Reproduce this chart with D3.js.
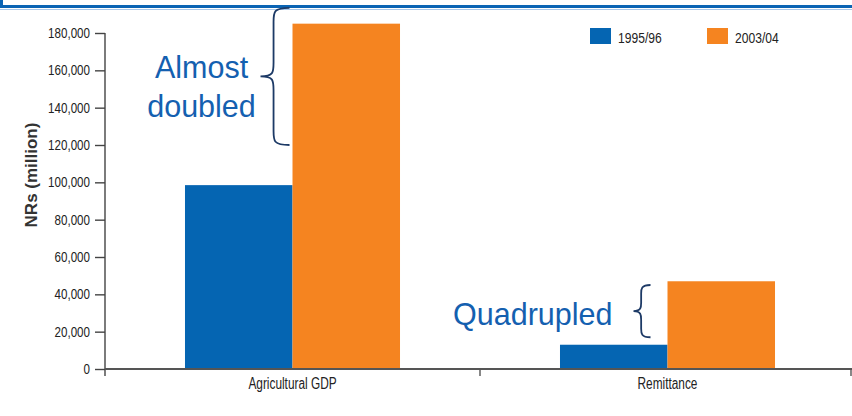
<!DOCTYPE html>
<html><head><meta charset="utf-8">
<script src="https://cdn.jsdelivr.net/npm/d3@7"></script>
<style>
html,body{margin:0;padding:0;background:#fff;}
svg{display:block;}
</style></head>
<body>
<svg id="chart" width="852" height="416"></svg>
<script>
const categories = ["Agricultural GDP", "Remittance"];
const seriesNames = ["1995/96", "2003/04"];
const values1995 = [98500, 13000];
const values2003 = [185000, 47000];
const yTicks = [0, 20000, 40000, 60000, 80000, 100000, 120000, 140000, 160000, 180000];
const colors = ["#0565b2", "#f58420"];
const annotations = [
  {cat: "Agricultural GDP", lines: ["Almost", "doubled"], top: 193500, bottom: 120000},
  {cat: "Remittance", lines: ["Quadrupled"], top: 45000, bottom: 17000}
];

const svg = d3.select("#chart");
const W = 852, H = 416;
const m = {left: 105, top: 33, bottom: 369, right: 855};
const font = "'Liberation Sans',Arial,sans-serif";

function squeeze(sel, f) {
  sel.each(function() {
    const len = this.getComputedTextLength();
    d3.select(this).attr("textLength", len * f).attr("lengthAdjust", "spacingAndGlyphs");
  });
}

// frame at top
svg.append("path").attr("d", "M1.5,0 V6.5 H852").attr("fill","none").attr("stroke","#0a64b4").attr("stroke-width",3);
svg.append("line").attr("x1",0).attr("x2",852).attr("y1",9.5).attr("y2",9.5).attr("stroke","#a9c8ea").attr("stroke-width",1);

const y = d3.scaleLinear().domain([0, 180000]).range([m.bottom, m.top]);
const x0 = d3.scaleBand().domain(categories).range([m.left, m.right]).padding(0);
const x1 = d3.scaleBand().domain(seriesNames).range([0, x0.bandwidth()]).paddingInner(0).paddingOuter(0.744);

// bars
const rows = categories.map((c, i) => ({cat: c, vals: [values1995[i], values2003[i]]}));
const g = svg.append("g");
rows.forEach(r => {
  r.vals.forEach((v, j) => {
    g.append("rect")
      .attr("x", x0(r.cat) + x1(seriesNames[j]))
      .attr("width", x1.bandwidth())
      .attr("y", y(v))
      .attr("height", y(0) - y(v))
      .attr("fill", colors[j]);
  });
});

// y axis
const yAxis = d3.axisLeft(y).tickValues(yTicks).tickSize(10).tickPadding(5)
  .tickFormat(d3.format(","));
const ya = svg.append("g").attr("transform", `translate(${m.left},0)`).call(yAxis);
ya.select(".domain").attr("d", `M0,${m.top}V${m.bottom + 7}`).attr("stroke", "#444").attr("stroke-width", 1.4);
ya.selectAll(".tick line").attr("stroke", "#444").attr("stroke-width", 1.4);
ya.selectAll(".tick text").attr("font-family", font).attr("font-size", 14.5).attr("fill", "#222");
squeeze(ya.selectAll(".tick text"), 0.8);

// x axis
const xa = svg.append("g").attr("transform", `translate(0,${m.bottom})`)
  .call(d3.axisBottom(x0).tickSize(0).tickPadding(9));
xa.select(".domain").attr("d", `M${m.left},0H${W}`).attr("stroke", "#555").attr("stroke-width", 2);
xa.selectAll(".tick text").attr("font-family", font).attr("font-size", 16).attr("fill", "#222");
squeeze(xa.selectAll(".tick text"), 0.74);
// boundary ticks
categories.slice(1).concat(["__end"]).forEach(c => {
  const xp = c === "__end" ? m.right - 4 : x0(c);
  xa.append("line").attr("x1", xp).attr("x2", xp).attr("y1", 0).attr("y2", 7).attr("stroke", "#555").attr("stroke-width", 1.4);
});

// y label
svg.append("text")
  .attr("transform", `translate(37,175) rotate(-90)`)
  .attr("text-anchor", "middle")
  .attr("font-family", font).attr("font-weight", "bold").attr("font-size", 17).attr("fill", "#333")
  .text("NRs (million)");

// legend
const legX = [590, 707];
seriesNames.forEach((s, j) => {
  svg.append("rect").attr("x", legX[j]).attr("y", 28).attr("width", 21).attr("height", 16).attr("fill", colors[j]);
  const t = svg.append("text").attr("x", legX[j] + 28).attr("y", 42.5).attr("font-family", font).attr("font-size", 15.5).attr("fill", "#222").text(s);
  squeeze(t, 0.78);
});

// annotations with braces
const braceCol = "#1d3a66", textCol = "#1460b0";
function brace(xr, yt, yb, w) {
  const ym = (yt + yb) / 2, xv = xr - w * 0.55, xt = xr - w;
  const r = Math.min(w * 0.5, 14);
  return `M${xr},${yt} C${xv},${yt} ${xv},${yt + 4} ${xv},${yt + r}`
    + ` V${ym - r} C${xv},${ym - 4} ${xv},${ym} ${xt},${ym}`
    + ` C${xv},${ym} ${xv},${ym + 4} ${xv},${ym + r}`
    + ` V${yb - r} C${xv},${yb - 4} ${xv},${yb} ${xr},${yb}`;
}
const braceOffset = [-3, -17], braceW = [29, 17];
annotations.forEach((a, i) => {
  const xr = x0(a.cat) + x1(seriesNames[1]) + braceOffset[i];
  const yt = y(a.top), yb = y(a.bottom);
  const w = braceW[i];
  svg.append("path").attr("d", brace(xr, yt, yb, w)).attr("fill", "none").attr("stroke", braceCol).attr("stroke-width", 1.8);
  const ym = (yt + yb) / 2;
  const t = svg.append("text").attr("text-anchor", i === 0 ? "middle" : "end")
    .attr("font-family", font).attr("font-size", 30.5).attr("fill", textCol);
  if (i === 0) {
    a.lines.forEach((l, k) => {
      t.append("tspan").attr("x", xr - w - 59).attr("y", ym + 1.5 + k * 39).text(l);
    });
  } else {
    t.append("tspan").attr("x", xr - w - 21).attr("y", ym + 14).text(a.lines[0]);
  }
});
</script>
</body></html>
